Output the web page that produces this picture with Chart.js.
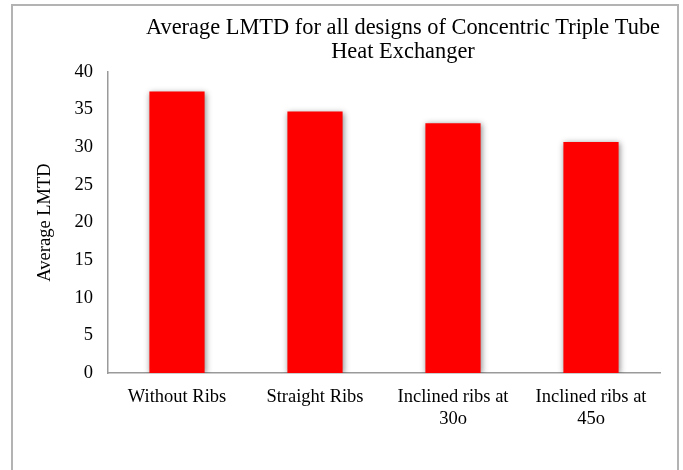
<!DOCTYPE html>
<html>
<head>
<meta charset="utf-8">
<script src="https://cdn.jsdelivr.net/npm/chart.js@4.4.1/dist/chart.umd.min.js"></script>
<style>
  html, body { margin: 0; padding: 0; background: #fff; }
  #wrap { position: relative; width: 683px; height: 470px; overflow: hidden; }
  #frame { position: absolute; left: 11px; top: 4px; width: 668px; height: 480px; border: 2px solid #b3b3b3; box-sizing: border-box; pointer-events: none; }
  canvas { position: absolute; left: 0; top: 0; }
</style>
</head>
<body>
<div id="wrap">
  <canvas id="c" width="683" height="470"></canvas>
  <div id="frame"></div>
</div>
<script>
const categories = ["Without Ribs", "Straight Ribs", ["Inclined ribs at", "30o"], ["Inclined ribs at", "45o"]];
const lmtdValues = [37.4, 34.75, 33.2, 30.7];
const titleLines = ["Average LMTD for all designs of Concentric Triple Tube", "Heat Exchanger"];
const yAxisTitle = "Average LMTD";

const FONT = "'Liberation Serif', 'Times New Roman', serif";

const shadowPlugin = {
  id: 'barShadow',
  beforeDatasetsDraw(chart) {
    const ctx = chart.ctx;
    ctx.save();
    ctx.shadowColor = 'rgba(0,0,0,0.45)';
    ctx.shadowBlur = 6;
    ctx.shadowOffsetX = 1;
    ctx.shadowOffsetY = 1;
  },
  afterDatasetsDraw(chart) {
    chart.ctx.restore();
  }
};

const titlePlugin = {
  id: 'customTitle',
  afterDraw(chart) {
    const ctx = chart.ctx;
    ctx.save();
    ctx.font = "22.4px " + FONT;
    ctx.fillStyle = '#000';
    ctx.textAlign = 'center';
    ctx.textBaseline = 'middle';
    const cx = 403;
    titleLines.forEach((t, i) => ctx.fillText(t, cx, 28 + i * 24));
    ctx.restore();
  }
};

new Chart(document.getElementById('c'), {
  type: 'bar',
  data: {
    labels: categories,
    datasets: [{
      data: lmtdValues,
      backgroundColor: '#ff0000',
      borderWidth: 0,
      categoryPercentage: 1.0,
      barPercentage: 0.4
    }]
  },
  options: {
    responsive: false,
    animation: false,
    devicePixelRatio: 1,
    layout: { padding: { top: 72, right: 23, bottom: 0, left: 0 } },
    plugins: {
      legend: { display: false },
      title: { display: false },
      tooltip: { enabled: false }
    },
    scales: {
      x: {
        grid: { display: false, drawTicks: false },
        border: { display: true, color: '#9a9a9a', width: 1.5 },
        ticks: { color: '#000', font: { family: FONT, size: 18.5, lineHeight: 1.2 }, padding: 13, maxRotation: 0, autoSkip: false },
        afterFit(scale) { scale.height = 97; }
      },
      y: {
        min: 0,
        max: 40,
        grid: { display: false, drawTicks: false },
        border: { display: true, color: '#9a9a9a', width: 1.5 },
        ticks: { stepSize: 5, color: '#000', font: { family: FONT, size: 18.5 }, padding: 15 },
        title: { display: true, text: yAxisTitle, color: '#000', font: { family: FONT, size: 18.5, lineHeight: 1.2 }, padding: { top: 34, bottom: 0 } },
        afterFit(scale) { scale.width = 108; }
      }
    }
  },
  plugins: [shadowPlugin, titlePlugin]
});
</script>
</body>
</html>
